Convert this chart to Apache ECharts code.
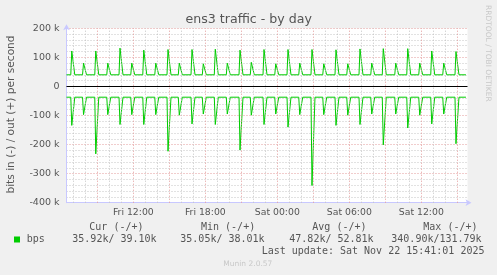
<!DOCTYPE html>
<html>
<head>
<meta charset="utf-8">
<script src="https://cdn.jsdelivr.net/npm/echarts@6/dist/echarts.min.js"></script>
<style>
html,body{margin:0;padding:0;background:#f0f0f0;}
#chart{width:497px;height:275px;}
</style>
</head>
<body>
<div id="chart"></div>
<script>
// ---- data (hours counted from Fri 00:00) ----
const timeLabelHours = [12, 18, 24, 30, 36];
const timeLabels = ['Fri 12:00', 'Fri 18:00', 'Sat 00:00', 'Sat 06:00', 'Sat 12:00'];
const yTickValues = [-400000, -300000, -200000, -100000, 0, 100000, 200000];
const yTickLabels = ['-400 k', '-300 k', '-200 k', '-100 k', '0', '100 k', '200 k'];

const dataStart = 6.43;
const dataEnd = 39.72;
const outBase = 40000;   // out (+) baseline, bits/s
const inBase = -37000;   // in (-) baseline, bits/s

const spikeHours = [6.87, 7.85, 8.87, 9.87, 10.89, 11.87, 12.87, 13.87, 14.89, 15.83,
  16.89, 17.83, 18.83, 19.83, 20.89, 21.83, 22.89, 23.87, 24.89, 25.87, 26.89, 27.87,
  28.89, 29.87, 30.89, 31.87, 32.83, 33.87, 34.87, 35.87, 36.87, 37.87, 38.89];
const outPeaks = [122000, 80000, 122000, 80000, 131790, 80000, 125000, 80000, 127000, 80000,
  127000, 78000, 128000, 80000, 125000, 83000, 127000, 78000, 127000, 80000, 127000, 78000,
  126000, 78000, 129000, 80000, 130000, 80000, 130000, 80000, 122000, 80000, 120000];
const inPeaks = [-134000, -97000, -232000, -97000, -131000, -97000, -131000, -97000, -223000, -99000,
  -129000, -95000, -131000, -95000, -219000, -99000, -131000, -95000, -140000, -97000, -340900, -97000,
  -134000, -99000, -131000, -95000, -201000, -95000, -143000, -99000, -129000, -95000, -197000];

const legendHeaders = ['Cur (-/+)', 'Min (-/+)', 'Avg (-/+)', 'Max (-/+)'];
const legendValues = ['35.92k/ 39.10k', '35.05k/ 38.01k', '47.82k/ 52.81k', '340.90k/131.79k'];
const seriesName = 'bps';
const lastUpdate = 'Last update: Sat Nov 22 15:41:01 2025';

// ---- build line vertices from the read values ----
function buildSeries(base, peaks) {
  const pts = [[dataStart, base]];
  spikeHours.forEach((t, i) => {
    pts.push([t - 0.083, base]);
    pts.push([t, peaks[i]]);
    pts.push([t + 0.25, base]);
  });
  pts.push([dataEnd, base]);
  return pts;
}
const outData = buildSeries(outBase, outPeaks);
const inData = buildSeries(inBase, inPeaks);

// vertical grid lines
const gridMajor = [], gridMinor = [];
for (let h = 7; h <= 39; h++) {
  if (h % 3 === 0) gridMajor.push({ xAxis: h }); else gridMinor.push({ xAxis: h });
}

const FONT = '"DejaVu Sans", sans-serif';
const MONO = '"DejaVu Sans Mono", monospace';
const TXT = '#555555';
const GREEN = '#00cc00';
const AXIS = '#c8c8ff';
const MAJOR = '#e39a9a';
const MINOR = '#c4c4c4';

const chart = echarts.init(document.getElementById('chart'), null, { renderer: 'canvas' });

const legendHeaderX = [89.3, 201, 312.3, 423.3];
const legendValueX = [72.3, 180.3, 289.3, 391.3];
const graphics = [
  { type: 'text', x: 248.7, y: 20, style: { text: 'ens3 traffic - by day', fontFamily: FONT, fontSize: 12.6, fill: TXT, align: 'center', verticalAlign: 'middle' } },
  { type: 'text', x: 11, y: 114.5, rotation: Math.PI / 2, style: { text: 'bits in (-) / out (+) per second', fontFamily: FONT, fontSize: 10.6, fill: TXT, align: 'center', verticalAlign: 'middle' } },
  { type: 'text', x: 487.7, y: 53.3, rotation: -Math.PI / 2, style: { text: 'RRDTOOL / TOBI OETIKER', fontFamily: FONT, fontSize: 7.5, fill: '#c8c8c8', align: 'center', verticalAlign: 'middle' } },
  { type: 'rect', shape: { x: 14, y: 236.5, width: 6, height: 6 }, style: { fill: GREEN } },
  { type: 'text', x: 26.7, y: 239.3, style: { text: seriesName, fontFamily: MONO, fontSize: 10, fill: TXT, verticalAlign: 'middle' } },
  { type: 'text', x: 261.7, y: 251, style: { text: lastUpdate, fontFamily: MONO, fontSize: 10, fill: TXT, verticalAlign: 'middle' } },
  { type: 'text', x: 223.3, y: 264, style: { text: 'Munin 2.0.57', fontFamily: FONT, fontSize: 7.5, fill: '#c8c8c8', verticalAlign: 'middle' } }
];
legendHeaders.forEach((t, i) => graphics.push({ type: 'text', x: legendHeaderX[i], y: 227.7, style: { text: t, fontFamily: MONO, fontSize: 10, fill: TXT, verticalAlign: 'middle' } }));
legendValues.forEach((t, i) => graphics.push({ type: 'text', x: legendValueX[i], y: 239.3, style: { text: t, fontFamily: MONO, fontSize: 10, fill: TXT, verticalAlign: 'middle' } }));

const option = {
  animation: false,
  backgroundColor: '#f0f0f0',
  grid: { left: 66.5, top: 28.3, width: 401, height: 174.4, show: true, backgroundColor: '#ffffff', borderWidth: 0 },
  xAxis: {
    type: 'value', min: 6.43, max: 39.85,
    axisLine: { show: true, onZero: false, lineStyle: { color: AXIS, width: 1 }, symbol: ['none', 'arrow'], symbolSize: [5, 6], symbolOffset: [0, 4] },
    axisTick: { show: false },
    splitLine: { show: false },
    axisLabel: {
      customValues: timeLabelHours,
      margin: 5, color: TXT, fontFamily: FONT, fontSize: 9.3,
      formatter: v => { const i = timeLabelHours.indexOf(Math.round(v)); return i >= 0 ? timeLabels[i] : ''; }
    }
  },
  yAxis: {
    type: 'value', min: -400000, max: 200000, interval: 100000,
    axisLine: { show: true, onZero: false, lineStyle: { color: AXIS, width: 1 }, symbol: ['none', 'arrow'], symbolSize: [5, 6], symbolOffset: [0, 4] },
    axisTick: { show: false },
    minorTick: { show: false, splitNumber: 5 },
    splitLine: { show: true, lineStyle: { color: MAJOR, type: [1, 2], width: 1 } },
    minorSplitLine: { show: true, lineStyle: { color: MINOR, type: [1, 2], width: 1 } },
    axisLabel: {
      margin: 7, color: TXT, fontFamily: FONT, fontSize: 9.5,
      formatter: v => { const i = yTickValues.indexOf(v); return i >= 0 ? yTickLabels[i] : ''; }
    }
  },
  graphic: graphics,
  series: [
    {
      type: 'line', data: [], z: 1, silent: true,
      markLine: {
        silent: true, symbol: ['none', 'none'], label: { show: false }, animation: false,
        emphasis: { disabled: true },
        data: gridMinor.map(d => Object.assign({ lineStyle: { color: MINOR, type: [1, 2], width: 1 } }, d))
          .concat(gridMajor.map(d => Object.assign({ lineStyle: { color: MAJOR, type: [1, 2], width: 1 } }, d)))
          .concat([{ yAxis: 0, lineStyle: { color: '#000000', type: 'solid', width: 1 } }])
      }
    },
    {
      name: 'out', type: 'line', data: outData, z: 3, showSymbol: false, silent: true,
      lineStyle: { color: GREEN, width: 1 }, itemStyle: { color: GREEN }
    },
    {
      name: 'in', type: 'line', data: inData, z: 3, showSymbol: false, silent: true,
      lineStyle: { color: GREEN, width: 1 }, itemStyle: { color: GREEN }
    }
  ]
};
chart.setOption(option);
</script>
</body>
</html>
